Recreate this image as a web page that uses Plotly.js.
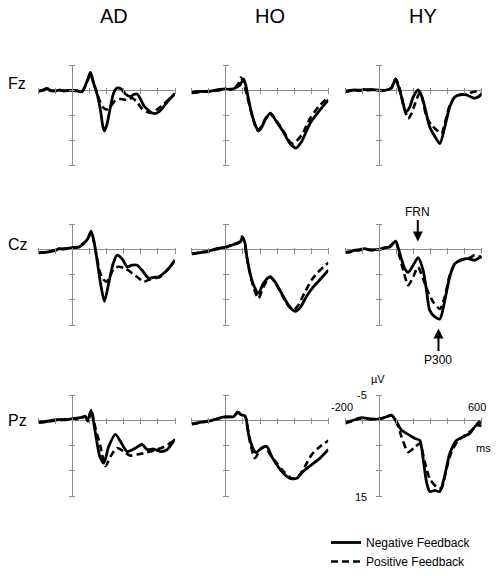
<!DOCTYPE html>
<html><head><meta charset="utf-8">
<script src="https://cdn.plot.ly/plotly-3.0.1.min.js"></script>
<style>html,body{margin:0;padding:0;background:#fff}#chart{width:500px;height:576px}</style>
</head><body><div id="chart"></div>
<script>
const groups = ['AD', 'HO', 'HY'];
const sites = ['Fz', 'Cz', 'Pz'];
const conditions = ['Negative Feedback', 'Positive Feedback'];
const xTicks = [-200, -100, 0, 100, 200, 300, 400, 500, 600];
const yTicks = [-5, 0, 5, 10, 15];
const xRange = [-200, 600];
const yRange = [15, -5];

// [ms, µV]
const Fz_AD_neg = [[-200,0.2],[-175,0],[-150,-0.3],[-125,0.1],[-100,0.2],[-75,0],[-50,0.2],[-25,0.1],[0,0.1],[30,0.2],[57,0.3],[90,-2.2],[105,-3.5],[125,-1.2],[144,0.8],[164,4.1],[179,7.5],[187,8.2],[203,6.7],[222,3.4],[242,0.5],[261,-0.4],[285,-0.2],[310,0.8],[339,1.3],[359,0.9],[378,0.8],[398,1.8],[417,3.1],[446,4.1],[476,4.7],[495,4.6],[524,3.75],[554,2.4],[583,1.3],[600,0.7]];
const Fz_AD_pos = [[-200,0.3],[-175,0.1],[-150,-0.1],[-125,0.2],[-100,0.1],[-75,0.1],[-50,0.1],[-25,0.2],[0,0.1],[30,0.1],[57,0.2],[90,-2.0],[105,-3.3],[125,-1.2],[144,0.6],[160,2.2],[180,3.5],[200,3.9],[222,3.3],[251,2.1],[281,1.8],[320,2.0],[349,1.6],[378,2.4],[407,3.75],[437,4.4],[466,4.6],[495,3.9],[534,2.8],[573,1.6],[600,0.8]];
const Fz_HO_neg = [[-200,0.5],[-150,0.3],[-100,0.3],[-53,0],[0,-0.2],[25,-0.1],[55,-0.4],[84,-1.05],[103,-2.2],[115,-1.2],[127,0.8],[142,3.4],[162,6.0],[177,7.4],[191,8.2],[211,7.4],[230,6.0],[259,4.7],[279,5.4],[298,6.4],[337,8.4],[376,10.7],[411,11.6],[444,10.3],[493,6.7],[542,4.4],[600,2.0]];
const Fz_HO_pos = [[-200,0.6],[-150,0.4],[-100,0.2],[-53,0.1],[0,-0.1],[25,-0.2],[55,-0.5],[75,-1.4],[88,-2.5],[100,-1.8],[112,-0.4],[125,1.2],[142,3.6],[162,6.1],[185,8.0],[211,7.2],[230,5.8],[259,4.6],[279,5.3],[298,6.2],[337,8.2],[376,10.4],[396,10.7],[444,9.0],[493,5.7],[542,3.4],[600,1.4]];
const Fz_HY_neg = [[-200,0.3],[-171,0.1],[-142,0],[-113,0.1],[-94,-0.1],[-64,0],[-45,-0.1],[0,0.1],[43,0],[72,-0.4],[96,-2.2],[111,-0.9],[131,1.4],[156,4.4],[179,3.4],[199,1.4],[228,0],[248,1.1],[267,3.4],[296,7.4],[326,9.3],[355,10.7],[384,7.4],[413,3.4],[443,1.4],[482,0.9],[520,1.1],[550,1.6],[579,1.4],[600,0.8]];
const Fz_HY_pos = [[-200,0.4],[-171,0.2],[-142,0.1],[-113,0],[-94,0.1],[-64,-0.1],[-45,0],[0,0],[43,0.1],[72,-0.5],[96,-2.2],[121,-0.2],[144,3.4],[170,5.7],[189,4.7],[209,2.8],[238,0.5],[257,2.4],[277,5.4],[306,7.0],[336,8.0],[365,8.7],[384,6.7],[413,3.1],[443,1.4],[482,0.9],[520,0.8],[540,0.5],[569,0.3],[589,0.5],[600,0.8]];
const Cz_AD_neg = [[-200,0.6],[-148,0.5],[-90,0],[-80,-0.2],[-51,-0.1],[0,-0.4],[37,-0.5],[66,-1.2],[90,-2.2],[109,-3.7],[125,-1.8],[144,2.1],[164,6.7],[187,10.3],[212,6.7],[238,2.8],[261,1.1],[290,1.8],[320,3.4],[349,3.1],[378,3.1],[407,4.1],[446,5.7],[476,5.5],[505,5.4],[534,4.7],[563,3.75],[600,2.1]];
const Cz_AD_pos = [[-200,0.7],[-148,0.4],[-90,0.1],[-80,-0.1],[-51,-0.2],[0,-0.3],[37,-0.6],[66,-1.3],[90,-2.1],[109,-3.5],[125,-1.6],[144,1.8],[160,4.4],[178,5.8],[199,6.4],[222,5.1],[242,3.75],[271,3.4],[310,3.75],[349,4.7],[388,5.7],[417,6.4],[446,6.0],[476,5.7],[515,5.4],[554,4.1],[600,2.1]];
const Cz_HO_neg = [[-200,0.8],[-150,0.6],[-101,0.3],[-53,-0.2],[0,-0.5],[35,-0.9],[64,-1.2],[84,-1.5],[97,-2.5],[111,-1.5],[123,1.4],[142,4.7],[162,7.0],[191,8.7],[220,6.7],[259,5.4],[288,6.4],[327,8.7],[366,11.0],[405,12.3],[434,11.6],[473,9.3],[512,7.4],[551,6.0],[600,4.1]];
const Cz_HO_pos = [[-200,0.9],[-150,0.5],[-101,0.4],[-53,-0.1],[0,-0.4],[35,-1.0],[64,-1.3],[82,-1.6],[94,-2.6],[108,-1.6],[121,1.2],[142,4.9],[165,7.8],[191,9.7],[220,7.4],[259,5.5],[288,6.5],[327,8.9],[366,11.2],[396,12.0],[425,11.0],[464,8.4],[503,6.0],[551,4.1],[600,2.6]];
const Cz_HY_neg = [[-200,0.5],[-171,0.5],[-142,0.1],[-113,0],[-84,-0.2],[-55,0.1],[-25,0],[0,0],[33,-0.4],[62,-0.5],[96,-1.7],[121,0.8],[150,3.8],[170,4.5],[199,3.1],[228,1.6],[257,4.1],[277,8.1],[296,12.1],[326,13.4],[355,13.8],[384,10.1],[413,5.4],[443,2.8],[482,2.0],[520,1.8],[559,2.1],[600,1.3]];
const Cz_HY_pos = [[-200,0.6],[-171,0.4],[-142,0.2],[-113,0.1],[-84,-0.1],[-55,0],[-25,0.1],[0,-0.1],[33,-0.3],[62,-0.6],[96,-1.7],[118,1.2],[141,4.1],[170,7.1],[199,5.4],[228,3.5],[257,5.8],[286,8.4],[316,10.4],[355,11.8],[384,9.4],[413,5.1],[443,2.8],[482,2.1],[530,1.6],[559,1.1],[579,1.3],[600,1.6]];
const Pz_AD_neg = [[-200,0.4],[-148,0.2],[-90,-0.1],[-41,-0.1],[0,-0.3],[47,-0.5],[76,-0.8],[90,0.2],[109,-2.0],[134,2.5],[160,7.2],[183,8.5],[212,5.2],[251,2.8],[281,4.2],[320,6.2],[359,5.7],[407,4.8],[437,5.8],[476,5.7],[515,6.2],[554,5.8],[600,3.7]];
const Pz_AD_pos = [[-200,0.5],[-148,0.3],[-90,0],[-41,-0.2],[0,-0.2],[47,-0.4],[76,-0.7],[90,0.1],[109,-2.0],[134,1.5],[164,5.2],[193,9.1],[222,7.2],[261,5.5],[300,6.2],[339,7.0],[378,6.8],[417,6.5],[456,6.2],[495,5.8],[534,5.3],[573,4.5],[600,4.0]];
const Pz_HO_neg = [[-200,0.7],[-150,0.4],[-101,0.2],[-53,-0.3],[0,-0.7],[45,-0.7],[70,-1.6],[88,-1.1],[113,-0.8],[133,2.8],[158,5.5],[177,6.4],[210,5.5],[240,5.2],[269,7.2],[298,8.8],[337,10.5],[376,11.5],[415,11.5],[454,10.1],[503,8.8],[552,7.5],[600,5.8]];
const Pz_HO_pos = [[-200,0.8],[-150,0.5],[-101,0.1],[-53,-0.2],[0,-0.6],[45,-0.8],[70,-1.6],[88,-1.2],[113,-0.8],[142,4.5],[171,7.5],[201,5.8],[230,5.2],[259,6.8],[298,8.5],[337,10.1],[386,11.5],[425,11.1],[464,9.1],[503,6.8],[552,5.2],[600,4.0]];
const Pz_HY_neg = [[-200,0.5],[-152,0],[-103,-0.5],[-55,-0.3],[0,-0.2],[43,-0.7],[72,-1.0],[101,0.3],[131,2.0],[170,2.8],[209,3.6],[238,4.0],[257,7.6],[277,12.2],[296,14.1],[326,13.9],[355,14.1],[384,10.9],[413,6.6],[452,4.0],[491,3.3],[530,2.6],[569,1.0],[600,1.1]];
const Pz_HY_pos = [[-200,0.6],[-152,0.1],[-103,-0.4],[-55,-0.2],[0,-0.3],[43,-0.6],[72,-1.0],[101,0.3],[131,3.3],[170,6.3],[209,5.3],[238,4.6],[267,8.3],[296,11.6],[336,13.2],[365,13.4],[394,9.6],[423,6.3],[462,4.0],[501,3.0],[540,2.0],[569,0.9],[585,0.3],[600,1.0]];

const waves = {
  Fz: {AD: [Fz_AD_neg, Fz_AD_pos], HO: [Fz_HO_neg, Fz_HO_pos], HY: [Fz_HY_neg, Fz_HY_pos]},
  Cz: {AD: [Cz_AD_neg, Cz_AD_pos], HO: [Cz_HO_neg, Cz_HO_pos], HY: [Cz_HY_neg, Cz_HY_pos]},
  Pz: {AD: [Pz_AD_neg, Pz_AD_pos], HO: [Pz_HO_neg, Pz_HO_pos], HY: [Pz_HY_neg, Pz_HY_pos]}
};

// layout geometry (pixels in a 500x576 page)
const W = 500, H = 576;
const colPx = [[38.3, 175], [191.7, 328.3], [345, 481.7]];
const rowPx = [[65, 165], [224.5, 325], [395, 496]];
const FONT = 'Arial, "Liberation Sans", sans-serif';
const AXC = '#8c8c8c';
const lineStyles = [
  {color: '#000', width: 2.8, dash: 'solid', shape: 'spline', smoothing: 0.7},
  {color: '#000', width: 2.6, dash: '7px,4px', shape: 'spline', smoothing: 0.7}
];

const traces = [];
const layout = {
  width: W, height: H,
  margin: {l: 0, r: 0, t: 0, b: 0},
  paper_bgcolor: '#fff', plot_bgcolor: 'rgba(0,0,0,0)',
  font: {family: FONT, color: '#000'},
  showlegend: true,
  legend: {x: 326 / W, y: 1 - 528 / H, xanchor: 'left', yanchor: 'top',
           font: {size: 12, family: FONT}, bgcolor: 'rgba(0,0,0,0)', tracegroupgap: 0},
  annotations: []
};

sites.forEach((site, r) => {
  groups.forEach((grp, c) => {
    const k = r * 3 + c + 1;
    const xn = k === 1 ? 'x' : 'x' + k;
    const yn = k === 1 ? 'y' : 'y' + k;
    const xd = [colPx[c][0] / W, colPx[c][1] / W];
    const yd = [1 - rowPx[r][1] / H, 1 - rowPx[r][0] / H];
    const zeroFracY = yd[1] - (yd[1] - yd[0]) * ((0 - yRange[1]) / (yRange[0] - yRange[1]));
    const zeroFracX = xd[0] + (xd[1] - xd[0]) * ((0 - xRange[0]) / (xRange[1] - xRange[0]));
    layout['xaxis' + (k === 1 ? '' : k)] = {
      domain: xd, range: xRange, anchor: 'free', position: zeroFracY + 3 / H,
      showline: false, showgrid: false, zeroline: true, zerolinecolor: AXC, zerolinewidth: 1,
      ticks: 'outside', ticklen: 6, tickwidth: 1, tickcolor: AXC, tickvals: xTicks,
      showticklabels: false, fixedrange: true
    };
    layout['yaxis' + (k === 1 ? '' : k)] = {
      domain: yd, range: yRange, anchor: 'free', position: zeroFracX + 3 / W, side: 'left',
      showline: false, showgrid: false, zeroline: true, zerolinecolor: AXC, zerolinewidth: 1,
      ticks: 'outside', ticklen: 6, tickwidth: 1, tickcolor: AXC, tickvals: yTicks,
      showticklabels: false, fixedrange: true
    };
    waves[site][grp].forEach((series, i) => {
      traces.push({
        type: 'scatter', mode: 'lines',
        x: series.map(p => p[0]), y: series.map(p => p[1]),
        xaxis: xn, yaxis: yn,
        name: conditions[i], legendgroup: conditions[i],
        showlegend: k === 1,
        line: lineStyles[i], hoverinfo: 'skip'
      });
    });
  });
});

// column titles and row labels
const colTitleX = [114, 269.5, 423];
groups.forEach((g, c) => layout.annotations.push({
  text: g, xref: 'paper', yref: 'paper', x: colTitleX[c] / W, y: 1 - 16 / H,
  xanchor: 'center', yanchor: 'middle', showarrow: false, font: {size: 20, family: FONT}
}));
const rowLabelY = [83, 244, 420];
sites.forEach((s, r) => layout.annotations.push({
  text: s, xref: 'paper', yref: 'paper', x: 6 / W, y: 1 - rowLabelY[r] / H,
  xanchor: 'left', yanchor: 'middle', showarrow: false, font: {size: 16, family: FONT}
}));

// component markers on the Cz / HY panel
layout.annotations.push({
  text: 'FRN', xref: 'x6', yref: 'y6', x: 226, y: -1.6, ax: 0, ay: -30,
  showarrow: true, arrowhead: 2, arrowsize: 1, arrowwidth: 2, arrowcolor: '#000',
  font: {size: 12, family: FONT}
});
layout.annotations.push({
  text: 'P300', xref: 'x6', yref: 'paper', x: 347, y: 1 - 328.5 / H, ax: 0, ay: 31,
  showarrow: true, arrowhead: 2, arrowsize: 1, arrowwidth: 2, arrowcolor: '#000',
  font: {size: 12, family: FONT}
});

// scale labels on the Pz / HY panel
const scaleLabels = [
  {text: 'µV', x: 378, y: 379, anchor: 'center'},
  {text: '-5', x: 369, y: 395, anchor: 'right'},
  {text: '15', x: 369, y: 497, anchor: 'right'},
  {text: '-200', x: 342, y: 406.5, anchor: 'center'},
  {text: '600', x: 477, y: 406.5, anchor: 'center'},
  {text: 'ms', x: 483, y: 448, anchor: 'center'}
];
scaleLabels.forEach(l => layout.annotations.push({
  text: l.text, xref: 'paper', yref: 'paper', x: l.x / W, y: 1 - l.y / H,
  xanchor: l.anchor, yanchor: 'middle', showarrow: false, font: {size: 11, family: FONT}
}));

Plotly.newPlot('chart', traces, layout, {displayModeBar: false, staticPlot: true});
</script>
</body></html>
